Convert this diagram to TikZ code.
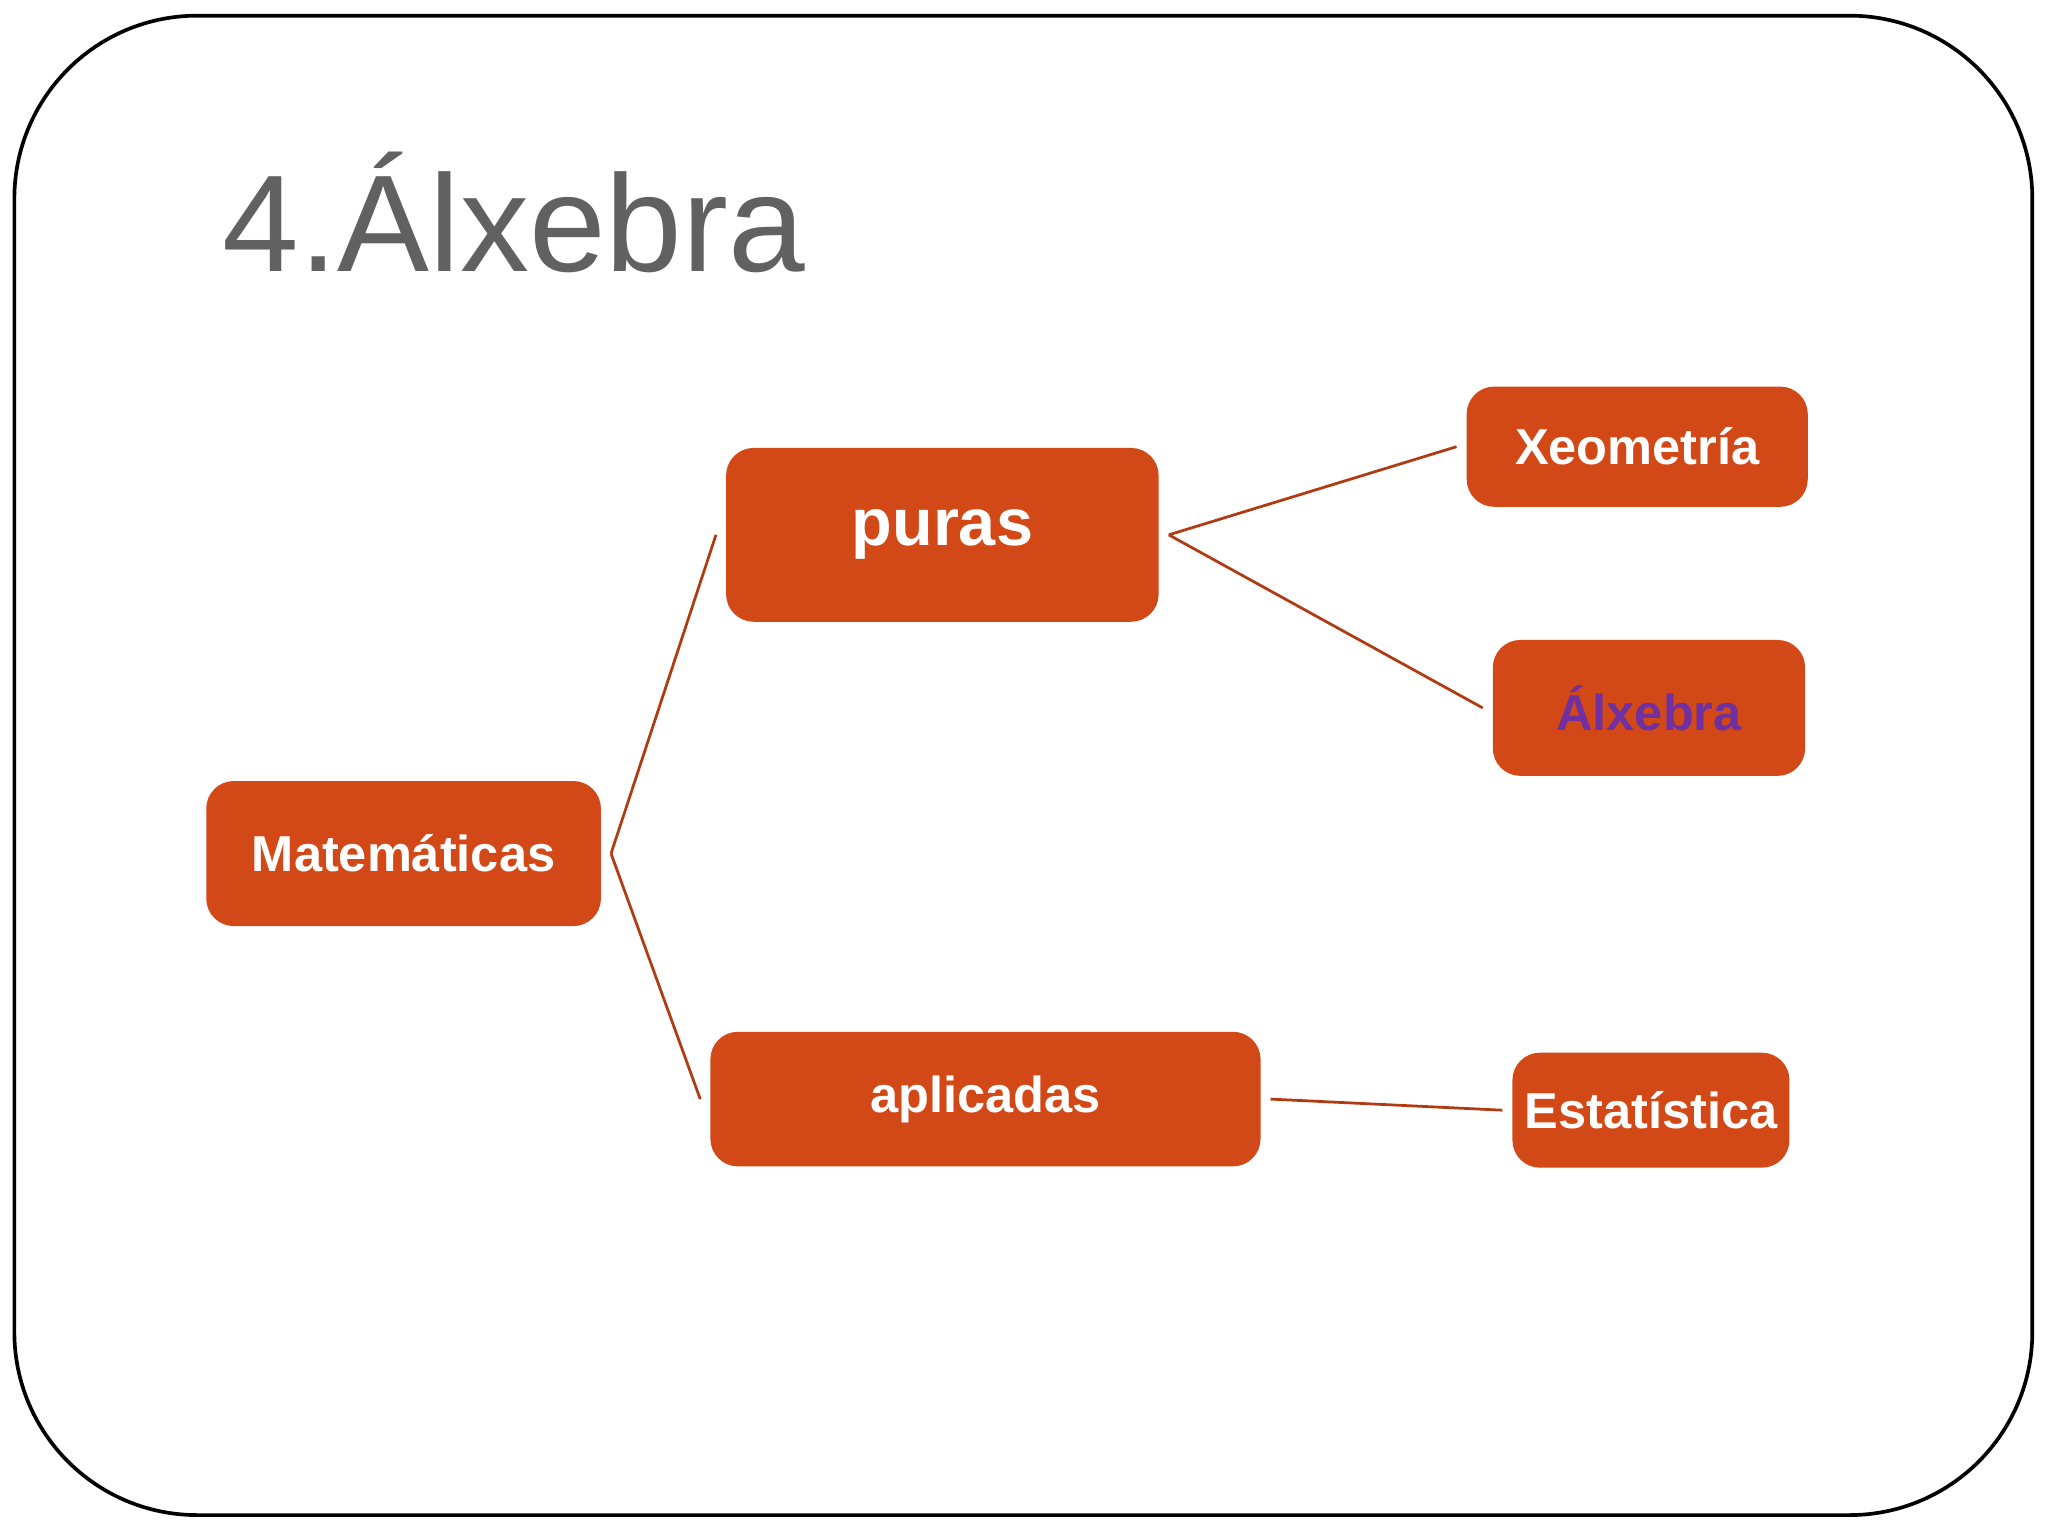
\documentclass[tikz,border=0pt]{standalone}
\usepackage{fontspec}
\setmainfont{Liberation Sans}
\definecolor{boxfill}{HTML}{D34817}
\definecolor{linec}{HTML}{B03A12}
\definecolor{titlegray}{HTML}{616161}
\definecolor{purp}{HTML}{7030A0}
\begin{document}
\begin{tikzpicture}[x=0.01cm,y=-0.01cm,
  box/.style={fill=boxfill,rounded corners=6pt,inner sep=0pt,text=white,font=\bfseries},
  conn/.style={draw=linec,line width=0.6pt}]
\useasboundingbox (0,0) rectangle (1568,1176);
\draw[line width=0.8pt,rounded corners=1.4cm] (11,12) rectangle (1556,1160);
\node[anchor=base west,text=titlegray,font=\fontsize{30}{36}\selectfont,inner sep=0pt] (title) at (170,208) {4.Álxebra};
\node[box,minimum width=3.02cm,minimum height=1.11cm,font=\bfseries\fontsize{11}{13}\selectfont] (mat) at (309,653.5) {Matemáticas};
\node[box,minimum width=3.31cm,minimum height=1.33cm,font=\bfseries\fontsize{14.5}{17}\selectfont] (pur) at (721.5,409.5) {puras};
\node[box,minimum width=4.21cm,minimum height=1.03cm,font=\bfseries\fontsize{11}{13}\selectfont] (apl) at (754.5,841.5) {aplicadas};
\node[box,minimum width=2.61cm,minimum height=0.92cm,font=\bfseries\fontsize{11}{13}\selectfont] (xeo) at (1253.5,342) {Xeometría};
\node[box,minimum width=2.39cm,minimum height=1.04cm,text=purp,font=\bfseries\fontsize{11}{13}\selectfont] (alx) at (1262.5,542) {Álxebra};
\node[box,minimum width=2.12cm,minimum height=0.88cm,font=\bfseries\fontsize{11}{13}\selectfont] (est) at (1264,850) {Estatística};
\draw[conn] ([xshift=2pt]mat.east) -- ([xshift=-2pt]pur.west);
\draw[conn] ([xshift=2pt]mat.east) -- ([xshift=-2pt]apl.west);
\draw[conn] ([xshift=2pt]pur.east) -- ([xshift=-2pt]xeo.west);
\draw[conn] ([xshift=2pt]pur.east) -- ([xshift=-2pt]alx.west);
\draw[conn] ([xshift=2pt]apl.east) -- ([xshift=-2pt]est.west);
\end{tikzpicture}
\end{document}
